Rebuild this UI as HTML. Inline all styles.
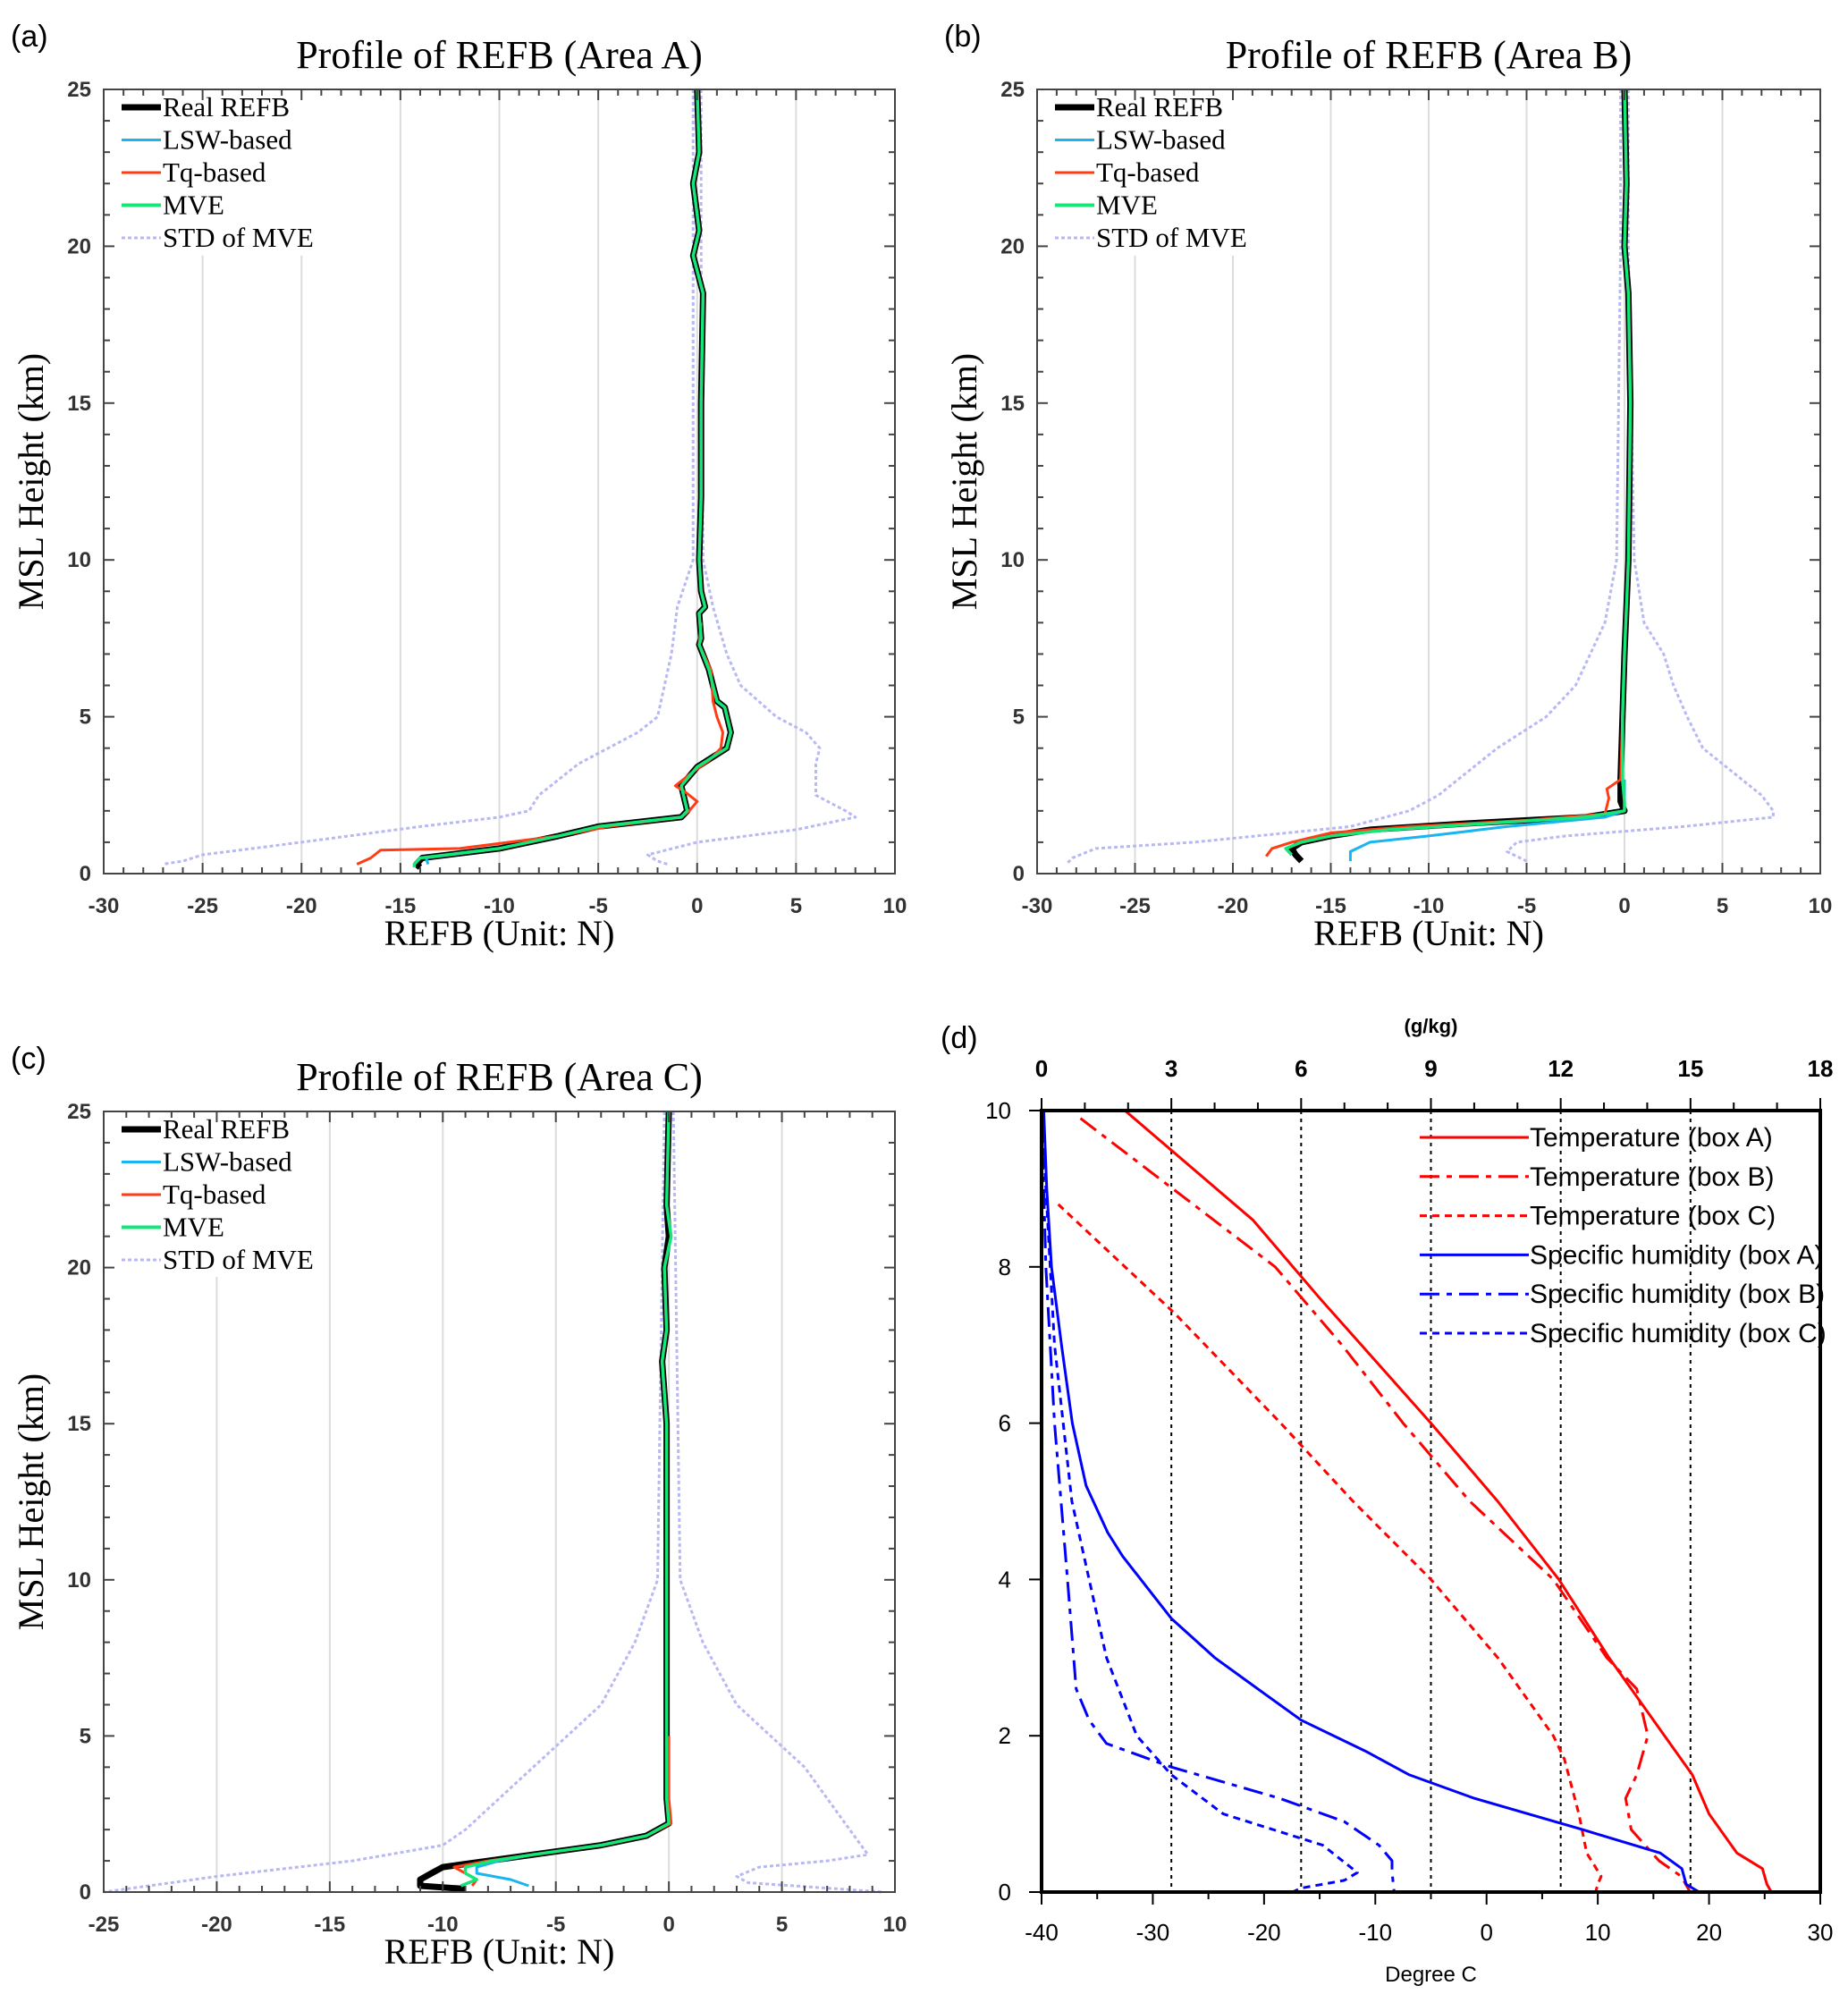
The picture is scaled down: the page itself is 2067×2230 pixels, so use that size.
<!DOCTYPE html>
<html><head><meta charset="utf-8"><style>
body{margin:0;background:#fff;}
svg{display:block;}
</style></head><body>
<svg id="fig" width="2067" height="2230" viewBox="0 0 2067 2230" xmlns="http://www.w3.org/2000/svg"></svg>
<script>
// ---------- Panel A data: [height km, REFB N] ----------
const aRealH=[25,23,22,21,20.5,19.7,18.5,15,12,10,9,8.5,8.3,7.5,7.3,6.5,5.5,5.3,4.5,4,3.6,3.4,2.8,2,1.8,1.5,1.2,0.8,0.5,0.3,0.2];
const aRealV=[0,0.1,-0.2,0,0.1,-0.2,0.3,0.2,0.2,0.1,0.2,0.4,0.1,0.2,0.1,0.6,1.0,1.4,1.7,1.5,0.5,0,-0.8,-0.5,-0.8,-5,-7,-10,-13.9,-14.2,-14];
const aTqH=[8,7.3,6.5,5.5,5,4.5,4,3.6,3.2,2.8,2.6,2.3,2.0,1.8,1.5,1.2,0.8,0.75,0.5,0.3];
const aTqV=[0.2,0.1,0.7,0.8,1.0,1.3,1.2,0.6,-0.3,-1.1,-0.6,0,-0.4,-0.8,-4.5,-7,-12,-16,-16.5,-17.2];
const aLswH=[2,1.8,1.5,1.2,0.8,0.5,0.3];
const aLswV=[-0.5,-0.8,-5,-7,-10,-13.7,-13.6];
const aMveV=[0,0.1,-0.2,0,0.1,-0.2,0.3,0.2,0.2,0.1,0.2,0.4,0.1,0.2,0.1,0.6,1.0,1.4,1.7,1.5,0.5,0,-0.8,-0.5,-0.8,-5,-7,-10,-14,-14.3,-14.3];
const aStdLH=[25,20,10,8.5,7,5,4.5,4,3.5,3,2.5,2,1.8,1.5,1,0.6,0.4,0.3];
const aStdLV=[-0.2,-0.2,-0.2,-1,-1.3,-2,-3,-4.5,-6,-7,-8,-8.5,-10,-14,-20,-25,-26,-27];
const aStdRH=[25,20,10,8.5,7,6,5,4.5,4,3.5,2.5,2,1.8,1.4,1,0.6,0.4,0.3];
const aStdRV=[0.2,0.2,0.3,0.8,1.5,2.2,4,5.5,6.2,6,6,7.5,8,5,0,-2.5,-2,-1.5];
// ---------- Panel B ----------
const bRealH=[25,22,20,18.5,15,10,7,5,3,2.3,2.0,1.8,1.6,1.4,1.2,1.0,0.8,0.6,0.4];
const bRealV=[0,0.1,0,0.2,0.3,0.2,0,-0.1,-0.2,-0.2,0,-2,-8,-13,-15,-16.5,-17,-16.8,-16.5];
const bTqH=[5,3,2.7,2.4,1.9,1.7,1.5,1.3,1.0,0.8,0.55];
const bTqV=[-0.1,-0.2,-0.9,-0.8,-1,-5,-11,-15,-17,-18,-18.3];
const bLswH=[3,2,1.8,1.5,1.2,1.0,0.7,0.4];
const bLswV=[0,0,-1,-6,-10,-13,-14,-14];
const bMveH=[25,22,20,18.5,15,10,7,5,3,2.3,2.0,1.8,1.6,1.4,1.2,1.0,0.8,0.6];
const bMveV=[0,0.1,0,0.2,0.3,0.2,0,-0.1,-0.1,0,0,-2,-7,-12,-15,-16.5,-17.3,-17];
const bStdLH=[25,20,10,8,6,5,4,3,2.5,2,1.5,1,0.8,0.5,0.3];
const bStdLV=[-0.2,-0.2,-0.4,-1,-2.5,-4,-6.5,-8.5,-9.5,-11,-14,-22,-27,-28.2,-28.5];
const bStdRH=[25,20,10,8,7,6,5,4,3.5,3,2.5,2,1.8,1.5,1.2,1,0.7,0.4];
const bStdRV=[0.2,0.2,0.5,1,2,2.5,3.2,4,5,6,7,7.6,7.6,3,-3,-5.5,-6,-5];
// ---------- Panel C ----------
const cRealH=[25,22,21,20,18,17,15,10,5,3,2.2,1.8,1.5,1.2,1,0.8,0.6,0.4,0.2,0.1];
const cRealV=[0,-0.1,0,-0.2,-0.1,-0.3,-0.1,-0.1,-0.1,-0.1,0,-1,-3,-6,-8,-10,-10.5,-11,-11,-9];
const cTqH=[5,3,2.2,1.8,1.5,1.2,1,0.8,0.6,0.4,0.2];
const cTqV=[0,0,0.1,-1,-3,-6,-8,-9.5,-9,-8.5,-8.7];
const cLswH=[1.5,1.2,1,0.8,0.6,0.4,0.2];
const cLswV=[-3,-6,-7.5,-8.5,-8.5,-7,-6.2];
const cMveH=[25,22,21,20,18,17,15,10,5,3,2.2,1.8,1.5,1.2,1,0.8,0.6,0.4,0.2];
const cMveV=[0,-0.1,0.1,-0.2,-0.1,-0.3,-0.1,-0.1,-0.1,-0.1,0,-1,-3,-6,-7.8,-9,-9,-8.5,-9.2];
const cStdLH=[25,20,10,8,6,5,4,3,2,1.5,1,0.5,0.2,0];
const cStdLV=[-0.2,-0.3,-0.5,-1.5,-3,-4.5,-6,-7.5,-9,-10,-14,-20,-23,-25];
const cStdRH=[25,20,10,8,6,5,4,3,2,1.5,1.2,1,0.8,0.5,0.3,0];
const cStdRV=[0.2,0.3,0.5,1.5,3,4.5,6,7,8,8.5,8.8,7,4,3,3.5,9.5];
// ---------- Panel D ----------
const tAH=[10,8.6,7.6,6,5,4,3,2,1.5,1,0.5,0.3,0.1,0];
const tAV=[-32.5,-21,-15,-5,1,6.5,11,16,18.5,20,22.5,24.8,25.2,25.6];
const tBH=[9.9,8,7,6,5,4,3,2.6,2,1.5,1.2,0.8,0.4,0.2,0];
const tBV=[-36.5,-19,-13,-7.5,-1.5,6,10.8,13.5,14.5,13.5,12.5,13,15.5,17.5,18.3];
const tCH=[8.8,7.4,6,5,4,3,2,1.7,1,0.5,0.2,0.1,0];
const tCV=[-38.5,-28,-18.5,-12,-5,1,6,7,8.3,9,10.3,10,9.8];
const qAH=[10,9,8,7,6,5.2,4.6,4.3,3.5,3,2.6,2.2,1.8,1.5,1.2,0.8,0.5,0.3,0.1,0];
const qAV=[0.05,0.12,0.23,0.46,0.71,1.03,1.53,1.87,3.0,4,5,6,7.5,8.5,10,12.5,14.3,14.8,14.9,15.2];
const qBH=[10,8,6,4,2.6,2.2,1.9,1.6,1.2,0.9,0.6,0.4,0.25,0];
const qBV=[0,0.1,0.3,0.6,0.8,1.1,1.5,3,5.5,7,7.8,8.1,8.1,8.15];
const qCH=[10,7,5,4,3,2,1.5,1,0.6,0.25,0.15,0.05,0];
const qCV=[0,0.3,0.7,1.1,1.5,2.2,3,4.2,6.5,7.3,7,6,5.8];

const svg=document.getElementById('fig');
const NS='http://www.w3.org/2000/svg';
function mk(tag,attrs,parent,name,inter){
  const e=document.createElementNS(NS,tag);
  for(const k in attrs)e.setAttribute(k,attrs[k]);
  
  
  (parent||svg).appendChild(e);return e;
}
function txt(x,y,s,size,fam,parent,name,extra){
  const t=mk('text',Object.assign({x:x,y:y,'font-size':size,'font-family':fam,fill:'#000'},extra||{}),parent,name,false);
  t.textContent=s;return t;
}
const SERIF='"Liberation Serif", serif', SANS='"Liberation Sans", sans-serif';
function poly(H,V,sx,sy,style,parent,name){
  const pts=H.map((h,i)=>sx(V[i]).toFixed(1)+','+sy(h).toFixed(1)).join(' ');
  return mk('polyline',Object.assign({points:pts,fill:'none','stroke-linejoin':'round'},style),parent,name,false);
}

function refbPanel(o){
  const g=mk('g',{},svg,o.name,false);
  const sx=v=>o.x0+(v-o.xmin)/(o.xmax-o.xmin)*(o.x1-o.x0);
  const sy=h=>o.y1-h/25*(o.y1-o.y0);
  txt(o.x0-104,o.y0-48,o.label,34,SANS,g,'panel-label');
  txt((o.x0+o.x1)/2,o.y0-24,o.title,44,SERIF,g,'chart-title',{'text-anchor':'middle'});
  for(let v=o.xmin+5;v<o.xmax;v+=5){
    const top = v<o.gridCut ? sy(19.7) : o.y0;
    mk('line',{x1:sx(v),x2:sx(v),y1:top,y2:o.y1,stroke:'#dcdcdc','stroke-width':2},g,'grid-line',false);
  }
  poly(o.sLH,o.sLV,sx,sy,{stroke:'#b8b8f4','stroke-width':3,'stroke-dasharray':'4 3'},g,'std-left-line');
  poly(o.sRH,o.sRV,sx,sy,{stroke:'#b8b8f4','stroke-width':3,'stroke-dasharray':'4 3'},g,'std-right-line');
  poly(o.rH,o.rV,sx,sy,{stroke:'#000','stroke-width':7},g,'real-refb-line');
  poly(o.lH,o.lV,sx,sy,{stroke:'#1ab4f0','stroke-width':3},g,'lsw-line');
  poly(o.tH,o.tV,sx,sy,{stroke:'#ff3c14','stroke-width':3},g,'tq-line');
  poly(o.mH,o.mV,sx,sy,{stroke:'#14e678','stroke-width':3.5},g,'mve-line');
  mk('rect',{x:o.x0,y:o.y0,width:o.x1-o.x0,height:o.y1-o.y0,fill:'none',stroke:'#444','stroke-width':2},g,'axes-box',false);
  for(let v=o.xmin;v<=o.xmax;v+=1){
    const major=v%5===0, L=major?12:7;
    mk('line',{x1:sx(v),x2:sx(v),y1:o.y1,y2:o.y1-L,stroke:'#444','stroke-width':2},g,'x-tick',false);
    mk('line',{x1:sx(v),x2:sx(v),y1:o.y0,y2:o.y0+L,stroke:'#444','stroke-width':2},g,'x-tick-top',false);
    if(major) txt(sx(v),o.y1+44,String(v),24,SANS,g,'x-tick-label',{'text-anchor':'middle','font-weight':'bold',fill:'#333'});
  }
  for(let h=0;h<=25;h+=1){
    const major=h%5===0,L=major?12:7;
    mk('line',{x1:o.x0,x2:o.x0+L,y1:sy(h),y2:sy(h),stroke:'#444','stroke-width':2},g,'y-tick',false);
    mk('line',{x1:o.x1,x2:o.x1-L,y1:sy(h),y2:sy(h),stroke:'#444','stroke-width':2},g,'y-tick-right',false);
    if(major) txt(o.x0-14,sy(h)+8,String(h),24,SANS,g,'y-tick-label',{'text-anchor':'end','font-weight':'bold',fill:'#333'});
  }
  txt((o.x0+o.x1)/2,o.y1+80,'REFB (Unit: N)',40,SERIF,g,'x-axis-title',{'text-anchor':'middle'});
  const yt=txt(0,0,'MSL Height (km)',40,SERIF,g,'y-axis-title',{'text-anchor':'middle'});
  yt.setAttribute('transform','translate('+(o.x0-68)+','+((o.y0+o.y1)/2)+') rotate(-90)');
  const lg=mk('g',{},g,'legend',false);
  const items=[['Real REFB','#000',7,''],['LSW-based','#1ab4f0',3,''],['Tq-based','#ff3c14',3,''],['MVE','#14e678',4,''],['STD of MVE','#b8b8f4',3,'4 3']];
  items.forEach((it,i)=>{
    const y=o.y0+20+i*36.5;
    mk('line',{x1:o.x0+20,x2:o.x0+64,y1:y,y2:y,stroke:it[1],'stroke-width':it[2],'stroke-dasharray':it[3]},lg,'legend-swatch',false);
    txt(o.x0+66,y+10,it[0],31,SERIF,lg,'legend-entry');
  });
}

refbPanel({name:'panel-a',label:'(a)',title:'Profile of REFB (Area A)',x0:116,x1:1001,y0:100,y1:977,xmin:-30,xmax:10,gridCut:-17,
 rH:aRealH,rV:aRealV,tH:aTqH,tV:aTqV,lH:aLswH,lV:aLswV,mH:aRealH,mV:aMveV,sLH:aStdLH,sLV:aStdLV,sRH:aStdRH,sRV:aStdRV});
refbPanel({name:'panel-b',label:'(b)',title:'Profile of REFB (Area B)',x0:1160,x1:2036,y0:100,y1:977,xmin:-30,xmax:10,gridCut:-17,
 rH:bRealH,rV:bRealV,tH:bTqH,tV:bTqV,lH:bLswH,lV:bLswV,mH:bMveH,mV:bMveV,sLH:bStdLH,sLV:bStdLV,sRH:bStdRH,sRV:bStdRV});
refbPanel({name:'panel-c',label:'(c)',title:'Profile of REFB (Area C)',x0:116,x1:1001,y0:1243,y1:2116,xmin:-25,xmax:10,gridCut:-17,
 rH:cRealH,rV:cRealV,tH:cTqH,tV:cTqV,lH:cLswH,lV:cLswV,mH:cMveH,mV:cMveV,sLH:cStdLH,sLV:cStdLV,sRH:cStdRH,sRV:cStdRV});

// ---------- Panel D ----------
(function(){
  const g=mk('g',{},svg,'panel-d',false);
  const x0=1165,x1=2036,y0=1242,y1=2116;
  const sx=v=>x0+(v+40)/70*(x1-x0);
  const sq=q=>x0+q/18*(x1-x0);
  const sy=h=>y1-h/10*(y1-y0);
  txt(1052,1172,'(d)',34,SANS,g,'panel-label');
  txt((x0+x1)/2,1155,'(g/kg)',22,SANS,g,'top-axis-title',{'text-anchor':'middle','font-weight':'bold'});
  for(let q=3;q<18;q+=3) mk('line',{x1:sq(q),x2:sq(q),y1:y0,y2:y1,stroke:'#000','stroke-width':2,'stroke-dasharray':'4 5'},g,'grid-line',false);
  const qx=(H,V)=>H.map((h,i)=>sq(V[i]).toFixed(1)+','+sy(h).toFixed(1)).join(' ');
  const tx=(H,V)=>H.map((h,i)=>sx(V[i]).toFixed(1)+','+sy(h).toFixed(1)).join(' ');
  const series=[
    [tx(tAH,tAV),'#ff0000','','temperature-a-line'],
    [tx(tBH,tBV),'#ff0000','22 8 6 8','temperature-b-line'],
    [tx(tCH,tCV),'#ff0000','8 6','temperature-c-line'],
    [qx(qAH,qAV),'#0000ff','','humidity-a-line'],
    [qx(qBH,qBV),'#0000ff','22 8 6 8','humidity-b-line'],
    [qx(qCH,qCV),'#0000ff','8 6','humidity-c-line']];
  series.forEach(s=>mk('polyline',{points:s[0],fill:'none',stroke:s[1],'stroke-width':3,'stroke-dasharray':s[2],'stroke-linejoin':'round'},g,s[3],false));
  mk('rect',{x:x0,y:y0,width:x1-x0,height:y1-y0,fill:'none',stroke:'#000','stroke-width':4},g,'axes-box',false);
  for(let v=-40;v<=30;v+=10){
    mk('line',{x1:sx(v),x2:sx(v),y1:y1,y2:y1+14,stroke:'#000','stroke-width':2},g,'x-tick',false);
    txt(sx(v),y1+54,String(v),26,SANS,g,'x-tick-label',{'text-anchor':'middle'});
  }
  for(let v=-35;v<30;v+=10) mk('line',{x1:sx(v),x2:sx(v),y1:y1,y2:y1+8,stroke:'#000','stroke-width':2},g,'x-minor-tick',false);
  for(let q=0;q<=18;q+=1){
    const major=q%3===0;
    mk('line',{x1:sq(q),x2:sq(q),y1:y0,y2:y0-(major?14:9),stroke:'#000','stroke-width':2},g,'top-tick',false);
    if(major) txt(sq(q),y0-38,String(q),26,SANS,g,'top-tick-label',{'text-anchor':'middle','font-weight':'bold'});
  }
  for(let h=0;h<=10;h+=2){
    mk('line',{x1:x0,x2:x0-14,y1:sy(h),y2:sy(h),stroke:'#000','stroke-width':2},g,'y-tick',false);
    txt(x0-34,sy(h)+9,String(h),26,SANS,g,'y-tick-label',{'text-anchor':'end'});
  }
  txt((x0+x1)/2,2216,'Degree C',24,SANS,g,'x-axis-title',{'text-anchor':'middle'});
  const lg=mk('g',{},g,'legend',false);
  const names=['Temperature (box A)','Temperature (box B)','Temperature (box C)','Specific humidity (box A)','Specific humidity (box B)','Specific humidity (box C)'];
  names.forEach((n,i)=>{
    const y=1272+i*43.8;
    mk('line',{x1:1588,x2:1710,y1:y,y2:y,stroke:series[i][1],'stroke-width':3,'stroke-dasharray':series[i][2]},lg,'legend-swatch',false);
    txt(1711,y+10,n,30,SANS,lg,'legend-entry');
  });
})();
</script>
</body></html>
